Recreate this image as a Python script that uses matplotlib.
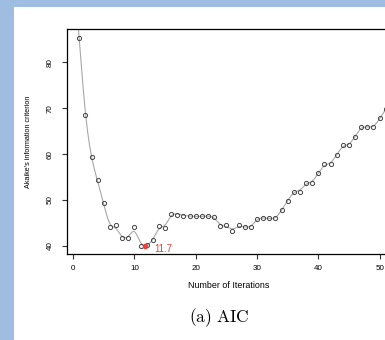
import numpy as np
import matplotlib
matplotlib.use("Agg")
import matplotlib.pyplot as plt
from matplotlib.patches import Rectangle

plt.rcParams['font.family'] = ['Liberation Sans', 'DejaVu Sans']
plt.rcParams['mathtext.fontset'] = 'cm'

# AIC per number of iterations
iterations = np.arange(1, 52)
aic = [85.4, 68.5, 59.4, 54.4, 49.3, 44.0, 44.6, 41.6, 41.6, 44.2,
       40.0, 40.2, 41.2, 44.3, 43.8, 47.0, 46.8, 46.6, 46.5, 46.4,
       46.4, 46.4, 46.3, 44.3, 44.5, 43.3, 44.5, 44.1, 44.0, 45.9,
       46.0, 46.0, 46.0, 47.8, 49.8, 51.8, 51.8, 53.8, 53.8, 55.8,
       57.8, 57.8, 59.9, 61.9, 61.9, 63.8, 65.9, 65.9, 65.9, 67.8,
       69.8]
min_iter = 11.7
xticks = [0, 10, 20, 30, 40, 50]
yticks = [40, 50, 60, 70, 80]

W, H = 385, 340

def fx(px):
    return px / W

def fy(py):
    return 1 - py / H

# smoothing spline (penalised fit on a fine grid)
h = 0.05
grid = np.arange(0.5, 53.0 + h / 2, h)
idx = np.rint((iterations - grid[0]) / h).astype(int)
n = len(grid)
wts = np.zeros(n)
wts[idx] = 1.0
rhs = np.zeros(n)
rhs[idx] = aic
D = np.diff(np.eye(n), 2, axis=0)
lam = 0.06 / h**3
smooth = np.linalg.solve(np.diag(wts) + lam * D.T @ D, rhs)

fig = plt.figure(figsize=(W / 100, H / 100), dpi=100)
fig.patch.set_facecolor('#9fbde0')
fig.patches.append(Rectangle((fx(14), 0), 1, fy(7), transform=fig.transFigure,
                             facecolor='white', edgecolor='none', zorder=-10))

ax = fig.add_axes([fx(67), fy(254), fx(398) - fx(67), fy(29) - fy(254)])
ax.set_zorder(5)
ax.set_xlim(-1, 53)
ax.set_ylim(38.2, 87.3)

ax.plot(grid, smooth, color='#a8a8a8', lw=0.8, zorder=2)
ax.plot(iterations, aic, ls='none', marker='o', ms=3.0, mfc='none',
        mec='#444444', mew=0.7, zorder=3)
ax.plot([min_iter], [np.interp(min_iter, grid, smooth)], marker='o', ms=3.0,
        color='#e8403a', zorder=4)
ax.text(min_iter + 1.6, 38.3, '%.1f' % min_iter, color='#e8403a', fontsize=7,
        ha='left', va='bottom')

for s in ax.spines.values():
    s.set_linewidth(0.9)
ax.set_xticks(xticks)
ax.set_yticks(yticks)
ax.tick_params(length=3.6, width=0.8, labelsize=5.8, color='#333333')
ax.tick_params(axis='x', pad=4)
ax.tick_params(axis='y', pad=6, labelrotation=90)
for lab in ax.get_yticklabels():
    lab.set_va('center')

fig.text(fx(229), fy(286), 'Number of Iterations', fontsize=6.4, ha='center', va='center')
fig.text(fx(29), fy(142), "Akaike's information criterion", fontsize=5.2,
         rotation=90, ha='center', va='center')
fig.text(fx(219), fy(318), r'$\mathrm{(a)\ AIC}$', fontsize=12.5,
         ha='center', va='center')

fig.savefig('out.png', dpi=100)
